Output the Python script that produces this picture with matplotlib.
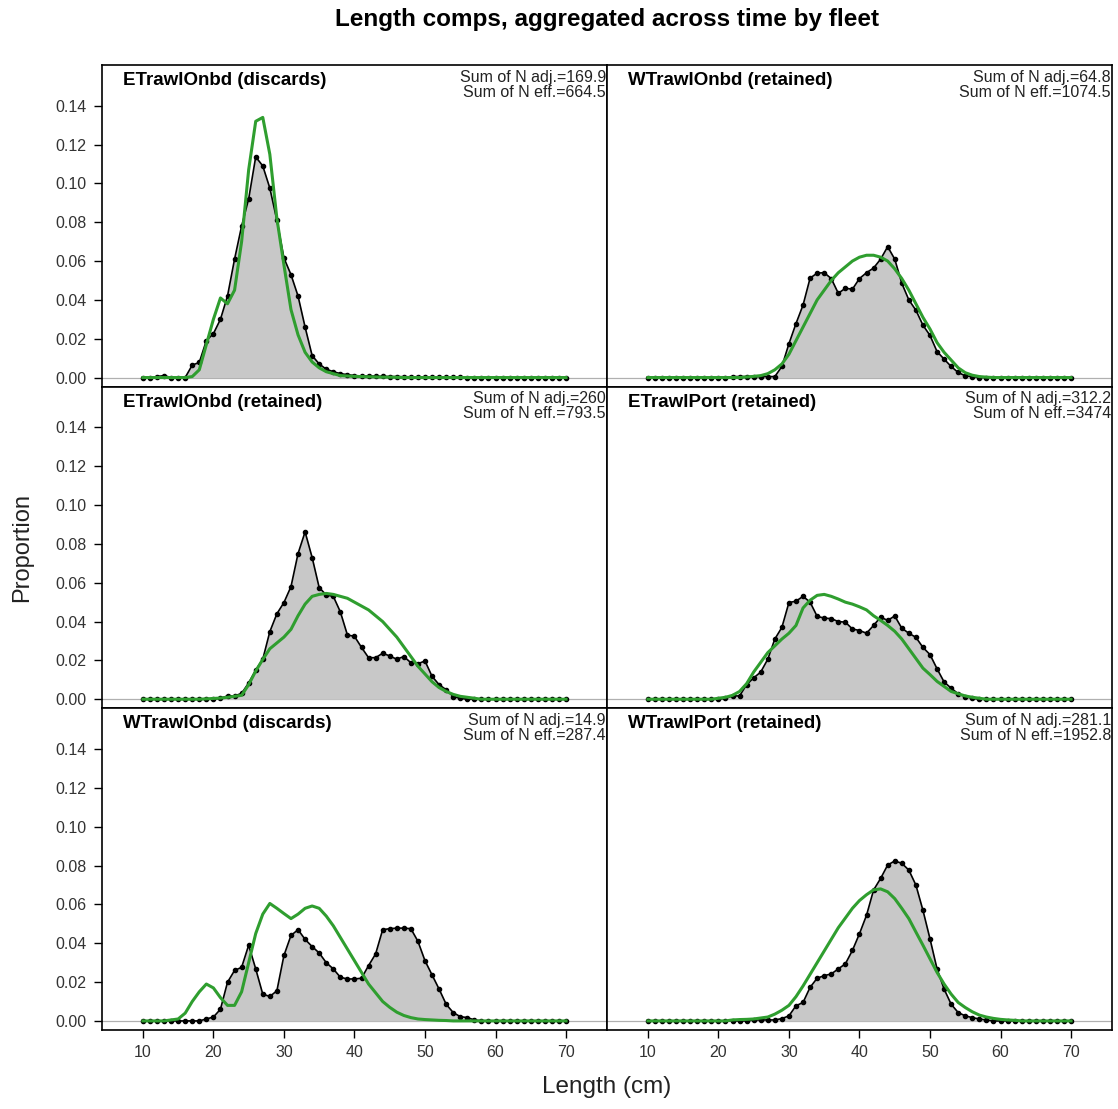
import numpy as np
import matplotlib
matplotlib.use("Agg")
import matplotlib.pyplot as plt

plt.rcParams['font.family'] = ['Liberation Sans', 'DejaVu Sans']

lengths = np.arange(10, 71)

fleets = ["ETrawlOnbd (discards)", "WTrawlOnbd (retained)",
          "ETrawlOnbd (retained)", "ETrawlPort (retained)",
          "WTrawlOnbd (discards)", "WTrawlPort (retained)"]
n_adj = ["169.9", "64.8", "260", "312.2", "14.9", "281.1"]
n_eff = ["664.5", "1074.5", "793.5", "3474", "287.4", "1952.8"]


def pad(start, vals):
    # fill a 10..70 vector, zeros outside the listed range
    out = np.zeros(len(lengths))
    out[start - 10:start - 10 + len(vals)] = vals
    return out


# observed proportions (black), starting length then values
obs_etd = pad(10, [0.0, 0.0, 0.0005, 0.001, 0.0, 0.0, 0.0, 0.0064, 0.0078, 0.019,
                   0.0226, 0.030, 0.042, 0.061, 0.078, 0.092, 0.1137, 0.109, 0.0976, 0.081,
                   0.0616, 0.053, 0.042, 0.026, 0.0113, 0.007, 0.0043, 0.003, 0.002, 0.0015,
                   0.001, 0.0008, 0.0008, 0.0007, 0.0006, 0.0005, 0.0005, 0.0004, 0.0004, 0.0003,
                   0.0003, 0.0002, 0.0002, 0.0002, 0.0001, 0.0001])
obs_wtr = pad(22, [0.0005, 0.0005, 0.0005, 0.0005, 0.0005, 0.0005, 0.0005, 0.0057, 0.0174, 0.0278,
                   0.0373, 0.0512, 0.0538, 0.054, 0.051, 0.0434, 0.046, 0.0455, 0.051, 0.054,
                   0.0564, 0.061, 0.0674, 0.061, 0.0486, 0.040, 0.0347, 0.027, 0.0217, 0.0134,
                   0.0095, 0.0057, 0.0026, 0.0009, 0.0005])
obs_etr = pad(21, [0.0005, 0.0017, 0.0017, 0.003, 0.0084, 0.015, 0.0206, 0.0348, 0.044, 0.0498,
                   0.058, 0.075, 0.0862, 0.073, 0.0575, 0.0537, 0.053, 0.045, 0.0331, 0.0324,
                   0.0267, 0.0214, 0.0214, 0.0237, 0.0223, 0.0206, 0.022, 0.0188, 0.0183, 0.0197,
                   0.0118, 0.0075, 0.0049, 0.0014, 0.0005])
obs_etp = pad(21, [0.0005, 0.0017, 0.0017, 0.0075, 0.011, 0.014, 0.0206, 0.031, 0.037, 0.0498,
                   0.0505, 0.053, 0.050, 0.0427, 0.0418, 0.0415, 0.040, 0.0397, 0.0362, 0.0354,
                   0.034, 0.038, 0.0423, 0.0406, 0.0429, 0.0366, 0.034, 0.0319, 0.0267, 0.023,
                   0.0157, 0.0089, 0.0057, 0.0028, 0.0014, 0.0005])
obs_wtd = pad(19, [0.001, 0.002, 0.006, 0.0199, 0.026, 0.0276, 0.039, 0.0268, 0.0138, 0.0126,
                   0.0155, 0.0337, 0.044, 0.047, 0.042, 0.0383, 0.035, 0.030, 0.0268, 0.0225,
                   0.0216, 0.0216, 0.022, 0.0285, 0.0345, 0.047, 0.0475, 0.0478, 0.0478, 0.0475,
                   0.041, 0.031, 0.0237, 0.0164, 0.0086, 0.0043, 0.0022, 0.0017, 0.0005])
obs_wtp = pad(25, [0.0005, 0.0005, 0.0005, 0.0005, 0.0012, 0.0026, 0.0078, 0.0095, 0.0173, 0.022,
                   0.0233, 0.0242, 0.0268, 0.0294, 0.0363, 0.0449, 0.0544, 0.0674, 0.0734, 0.0803,
                   0.0824, 0.0812, 0.0777, 0.070, 0.057, 0.0423, 0.0268, 0.0164, 0.0086, 0.0043,
                   0.0026, 0.0017, 0.001, 0.0005])

# expected proportions (green)
exp_etd = pad(17, [0.0005, 0.004, 0.017, 0.030, 0.041, 0.038, 0.045, 0.070, 0.107, 0.132,
                   0.134, 0.115, 0.082, 0.058, 0.035, 0.022, 0.013, 0.008, 0.005, 0.003,
                   0.002, 0.001, 0.0008, 0.0006, 0.0005, 0.0004, 0.0003, 0.0002, 0.0002, 0.0001])
exp_wtr = pad(24, [0.0003, 0.0006, 0.001, 0.002, 0.004, 0.007, 0.012, 0.019, 0.026, 0.033,
                   0.040, 0.045, 0.050, 0.054, 0.057, 0.060, 0.062, 0.063, 0.063, 0.062,
                   0.060, 0.056, 0.051, 0.045, 0.038, 0.031, 0.025, 0.018, 0.013, 0.009,
                   0.005, 0.0025, 0.0012, 0.0005, 0.0002])
exp_etr = pad(19, [0.0002, 0.0004, 0.0006, 0.001, 0.0015, 0.002, 0.0075, 0.0145, 0.0205, 0.026,
                   0.029, 0.032, 0.036, 0.043, 0.049, 0.053, 0.054, 0.0545, 0.054, 0.053,
                   0.052, 0.050, 0.048, 0.046, 0.043, 0.040, 0.036, 0.032, 0.027, 0.022,
                   0.017, 0.013, 0.009, 0.006, 0.004, 0.0025, 0.0015, 0.001, 0.0005])
exp_etp = pad(20, [0.0005, 0.001, 0.002, 0.004, 0.008, 0.014, 0.019, 0.024, 0.0275, 0.031,
                   0.034, 0.038, 0.047, 0.051, 0.0535, 0.054, 0.053, 0.0516, 0.050, 0.049,
                   0.0476, 0.046, 0.043, 0.0406, 0.038, 0.035, 0.031, 0.026, 0.021, 0.016,
                   0.0127, 0.0092, 0.0066, 0.004, 0.0028, 0.0017, 0.001, 0.0005])
exp_wtd = pad(14, [0.0005, 0.001, 0.004, 0.010, 0.015, 0.019, 0.017, 0.012, 0.008, 0.008,
                   0.015, 0.030, 0.045, 0.055, 0.0605, 0.058, 0.0553, 0.0527, 0.055, 0.058,
                   0.0592, 0.058, 0.054, 0.049, 0.043, 0.037, 0.031, 0.025, 0.019, 0.0145,
                   0.010, 0.007, 0.0045, 0.0028, 0.0017, 0.001, 0.0007, 0.0005, 0.0003, 0.0002])
exp_wtp = pad(22, [0.0005, 0.0007, 0.0008, 0.001, 0.0015, 0.002, 0.0035, 0.0055, 0.008, 0.0125,
                   0.018, 0.024, 0.030, 0.036, 0.042, 0.048, 0.053, 0.058, 0.062, 0.065,
                   0.0675, 0.068, 0.0665, 0.063, 0.058, 0.0527, 0.0458, 0.039, 0.032, 0.025,
                   0.019, 0.0138, 0.0095, 0.0069, 0.0047, 0.003, 0.002, 0.0013, 0.0008, 0.0005,
                   0.0003])

observed = [obs_etd, obs_wtr, obs_etr, obs_etp, obs_wtd, obs_wtp]
expected = [exp_etd, exp_wtr, exp_etr, exp_etp, exp_wtd, exp_wtp]

fig, axes = plt.subplots(3, 2, figsize=(11.18, 11.09), dpi=100, sharex=True, sharey=True)
fig.subplots_adjust(left=0.0912, right=0.9946, top=0.9414, bottom=0.0712,
                    wspace=0, hspace=0)

green = "#2f9e2f"
tick_col = "#333333"

for i, ax in enumerate(axes.flat):
    obs = observed[i]
    ax.axhline(0, color="#b0b0b0", lw=0.9, zorder=1)
    ax.fill_between(lengths, 0, obs, color="#c8c8c8", lw=0, zorder=2)
    ax.plot(lengths, obs, color="black", lw=1.2, marker="o", ms=3.0, zorder=3)
    ax.plot(lengths, expected[i], color=green, lw=2.2, zorder=4)
    ax.text(0.042, 0.978, fleets[i], transform=ax.transAxes, ha="left", va="top",
            fontsize=13.5, fontweight="bold")
    ax.text(0.998, 0.985, "Sum of N adj.=" + n_adj[i] + "\nSum of N eff.=" + n_eff[i],
            transform=ax.transAxes, ha="right", va="top", fontsize=11.5,
            color="#222222", linespacing=1.0)
    ax.set_xlim(4.2, 75.8)
    ax.set_ylim(-0.0047, 0.161)
    ax.set_xticks(range(10, 71, 10))
    ax.set_yticks(np.arange(0, 0.141, 0.02))
    ax.set_yticklabels(["%.2f" % v for v in np.arange(0, 0.141, 0.02)])
    ax.tick_params(direction="out", length=6, width=1, colors="black",
                   labelcolor=tick_col, labelsize=11.5, pad=5)
    for s in ax.spines.values():
        s.set_linewidth(1.2)
    if i % 2 == 1:
        ax.tick_params(axis="y", left=False)
    if i < 4:
        ax.tick_params(axis="x", bottom=False)

fig.suptitle("Length comps, aggregated across time by fleet", fontsize=17.5,
             fontweight="bold", y=0.993, x=0.543)
fig.text(0.5425, 0.010, "Length (cm)", ha="center", va="bottom", fontsize=17.5, color="#222222")
fig.text(0.010, 0.506, "Proportion", ha="left", va="center", rotation=90, fontsize=17,
         color="#222222")

fig.savefig("out.png", dpi=100)
